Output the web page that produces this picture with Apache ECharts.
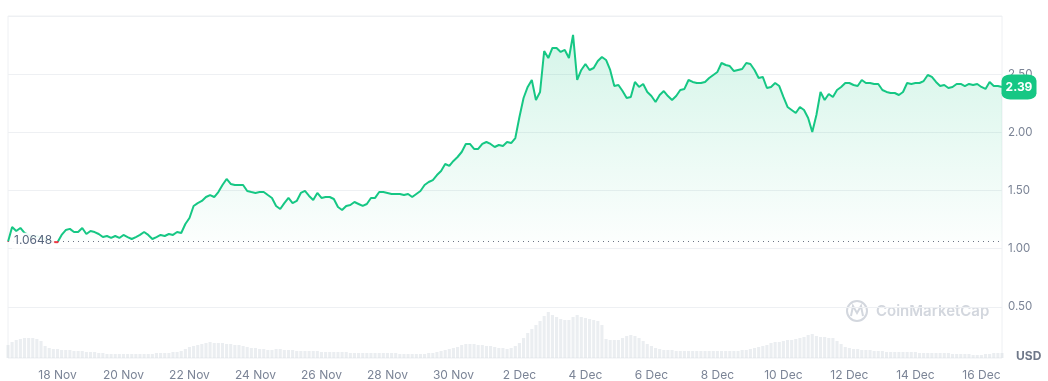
<!DOCTYPE html>
<html>
<head>
<meta charset="utf-8">
<script src="https://cdn.jsdelivr.net/npm/echarts@6/dist/echarts.min.js"></script>
<style>
html,body{margin:0;padding:0;background:#fff;}
#c{width:1048px;height:381px;}
</style>
</head>
<body>
<div id="c"></div>
<script>
// 3-hourly samples from 16 Nov 2024 12:00 UTC to 16 Dec 2024 15:00 UTC
const startTime = Date.UTC(2024, 10, 16, 12);
const stepHours = 3;
const baselinePrice = 1.0648;
const monthNames = ['Jan','Feb','Mar','Apr','May','Jun','Jul','Aug','Sep','Oct','Nov','Dec'];
const yTickLabels = ['0.50','1.00','1.50','2.00','2.50'];

const prices = [
1.060,1.186,1.152,1.178,1.135,1.118,1.100,1.109,1.092,1.083,1.075,1.057,1.055,1.118,1.160,1.170,
1.143,1.143,1.178,1.126,1.152,1.143,1.126,1.100,1.109,1.092,1.109,1.092,1.118,1.100,1.083,1.100,
1.118,1.143,1.118,1.083,1.100,1.118,1.109,1.126,1.118,1.143,1.135,1.212,1.264,1.367,1.392,1.410,
1.444,1.461,1.444,1.487,1.547,1.599,1.556,1.547,1.547,1.547,1.496,1.487,1.479,1.487,1.487,1.461,
1.436,1.367,1.341,1.392,1.436,1.392,1.410,1.479,1.496,1.453,1.418,1.479,1.436,1.444,1.444,1.427,
1.358,1.332,1.367,1.375,1.401,1.384,1.367,1.384,1.436,1.436,1.487,1.487,1.479,1.470,1.470,1.470,
1.461,1.470,1.444,1.470,1.496,1.547,1.573,1.590,1.633,1.668,1.728,1.711,1.754,1.788,1.831,1.900,
1.900,1.857,1.857,1.900,1.917,1.900,1.874,1.891,1.883,1.917,1.908,1.951,2.132,2.295,2.390,2.450,
2.278,2.347,2.699,2.639,2.725,2.725,2.691,2.708,2.639,2.837,2.450,2.536,2.587,2.536,2.553,2.613,
2.648,2.622,2.536,2.398,2.407,2.355,2.295,2.304,2.433,2.390,2.416,2.347,2.312,2.261,2.321,2.355,
2.312,2.278,2.312,2.364,2.373,2.450,2.433,2.424,2.424,2.433,2.467,2.493,2.519,2.596,2.579,2.570,
2.527,2.536,2.544,2.596,2.587,2.536,2.467,2.476,2.381,2.390,2.424,2.398,2.304,2.218,2.192,2.166,
2.218,2.192,2.123,2.003,2.149,2.347,2.278,2.330,2.304,2.364,2.390,2.424,2.424,2.407,2.398,2.450,
2.424,2.424,2.416,2.416,2.364,2.347,2.338,2.338,2.321,2.347,2.424,2.416,2.424,2.424,2.441,2.493,
2.476,2.433,2.398,2.407,2.381,2.390,2.416,2.416,2.398,2.416,2.407,2.416,2.390,2.373,2.433,2.398,
2.398,2.390
];

// volume per interval, relative units
const volumes = [
13,16,18,19,20,20,20,19,17,12,10,9,9,8,8,8,
7,7,7,6,6,6,5,5,4,4,4,4,4,4,4,4,
4,4,4,4,5,5,5,5,6,6,7,9,11,12,13,14,
15,16,15,15,15,14,14,13,13,12,11,10,10,9,9,8,
8,9,9,8,8,8,7,7,7,7,7,7,6,6,6,6,
6,6,6,5,5,5,5,5,5,5,5,5,5,5,5,4,
4,4,4,4,4,4,5,5,6,7,8,9,10,11,13,14,
14,14,13,13,12,12,11,10,10,9,10,12,15,20,25,29,
33,37,42,46,43,41,39,38,38,41,43,41,40,39,38,37,
33,19,18,18,18,20,22,23,22,20,17,14,12,10,9,8,
8,8,7,7,7,7,7,7,7,7,7,7,7,7,7,7,
7,7,8,8,9,10,11,12,13,15,16,16,17,18,18,19,
20,21,23,24,22,21,21,20,20,17,14,11,10,9,9,8,
8,8,7,7,7,6,6,6,6,6,6,6,6,5,5,5,
5,5,5,5,5,4,4,4,4,4,3,3,3,4,4,5,
5,5
];

const categories = prices.map((_, i) => new Date(startTime + i * stepHours * 3600000).toISOString());

function isLabelTick(iso) {
  const d = new Date(iso);
  return d.getUTCHours() === 0 && d.getUTCDate() % 2 === 0;
}
function fmtDay(iso) {
  const d = new Date(iso);
  return d.getUTCDate() + ' ' + monthNames[d.getUTCMonth()];
}

const GREEN = '#16c784';
const RED = '#ea3943';
const FONT = 'Inter, "Noto Sans", sans-serif';
const W = 1048, H = 381;

const chart = echarts.init(document.getElementById('c'), null, {renderer: 'canvas'});
const lastIdx = prices.length - 1;

chart.setOption({
  animation: false,
  backgroundColor: '#fff',
  textStyle: {fontFamily: FONT},
  grid: [
    {left: 8, right: 46, top: 16, bottom: 16, show: false},
    {left: 8, right: 46, top: 16, bottom: 23, show: true, borderColor: '#eef0f3', borderWidth: 1, backgroundColor: 'transparent'}
  ],
  xAxis: [
    {type: 'category', gridIndex: 0, data: categories, boundaryGap: false,
      axisLine: {show: false}, axisTick: {show: false}, axisLabel: {show: false}, splitLine: {show: false}},
    {type: 'category', gridIndex: 1, data: categories, boundaryGap: false,
      axisLine: {show: false}, axisTick: {show: false}, splitLine: {show: false},
      axisLabel: {
        show: true, margin: 11, color: '#7b8496', fontSize: 12, fontFamily: FONT,
        interval: (idx, val) => isLabelTick(val),
        formatter: (val) => fmtDay(val)
      }}
  ],
  yAxis: [
    {type: 'value', gridIndex: 0, position: 'right', min: 0, max: 3, interval: 0.5,
      axisLine: {show: false}, axisTick: {show: false},
      axisLabel: {
        margin: 6, color: '#7b8496', fontSize: 11.5, fontFamily: FONT,
        formatter: (v) => {
          const s = v.toFixed(2);
          return yTickLabels.indexOf(s) >= 0 ? s : '';
        }
      },
      splitLine: {show: true, lineStyle: {width: 1,
        color: ['rgba(0,0,0,0)', '#eef0f3', '#eef0f3', '#eef0f3', '#eef0f3', '#eef0f3', '#eef0f3']}}
    },
    {type: 'value', gridIndex: 1, min: 0, max: 342, show: false}
  ],
  graphic: [
    {type: 'circle', z: 0, shape: {cx: 857, cy: 311, r: 10}, style: {fill: 'none', stroke: '#d3d7de', lineWidth: 2}},
    {type: 'polyline', z: 0, shape: {points: [[851,316],[853,306],[857,313],[861,306],[863,316]]}, style: {fill: 'none', stroke: '#d3d7de', lineWidth: 2}},
    {type: 'text', z: 0, style: {x: 876, y: 311, text: 'CoinMarketCap', fill: '#d3d7de', font: '600 15px ' + FONT, verticalAlign: 'middle'}},
    {type: 'text', z: 5, style: {x: 1016, y: 356, text: 'USD', fill: '#6f7889', font: 'bold 12px ' + FONT, verticalAlign: 'middle'}}
  ],
  series: [
    {
      name: 'Price', type: 'line', xAxisIndex: 0, yAxisIndex: 0, data: prices,
      showSymbol: false, symbol: 'none', smooth: false, z: 3,
      lineStyle: {width: 2, color: GREEN},
      itemStyle: {color: GREEN},
      areaStyle: {
        origin: baselinePrice,
        color: new echarts.graphic.LinearGradient(0, 0, 0, 1, [
          {offset: 0, color: 'rgba(22,199,132,0.26)'},
          {offset: 1, color: 'rgba(22,199,132,0.02)'}
        ])
      },
      markLine: {
        silent: true, symbol: ['none', 'none'], animation: false,
        lineStyle: {type: [1, 4], color: '#6d7585', width: 1},
        label: {
          show: true, position: 'insideStartTop', distance: [4, -7],
          formatter: () => baselinePrice.toFixed(4),
          color: '#58667e', fontSize: 12, fontFamily: FONT,
          backgroundColor: 'rgba(255,255,255,0.92)', padding: [2, 2]
        },
        data: [{yAxis: baselinePrice}]
      },
      markPoint: {
        silent: true, animation: false,
        symbol: 'roundRect', symbolSize: [35, 25], symbolOffset: [17, 0],
        itemStyle: {color: GREEN},
        label: {show: true, position: 'inside', color: '#fff', fontWeight: 'bold', fontSize: 12, fontFamily: FONT,
          formatter: (p) => Number(p.value).toFixed(2)},
        data: [{coord: [lastIdx, prices[lastIdx]], value: prices[lastIdx]}]
      }
    },
    {
      name: 'Volume', type: 'bar', xAxisIndex: 1, yAxisIndex: 1, data: volumes,
      barCategoryGap: '25%', z: 1,
      itemStyle: {color: 'rgba(208,214,222,0.42)'}
    }
  ]
});

// colour the line red below the opening price, green above it
const basePix = chart.convertToPixel({yAxisIndex: 0}, baselinePrice);
const f = basePix / H;
chart.setOption({
  series: [{
    name: 'Price',
    lineStyle: {color: new echarts.graphic.LinearGradient(0, 0, 0, H, [
      {offset: 0, color: GREEN}, {offset: f, color: GREEN},
      {offset: f, color: RED}, {offset: 1, color: RED}
    ], true)}
  }]
});
</script>
</body>
</html>
